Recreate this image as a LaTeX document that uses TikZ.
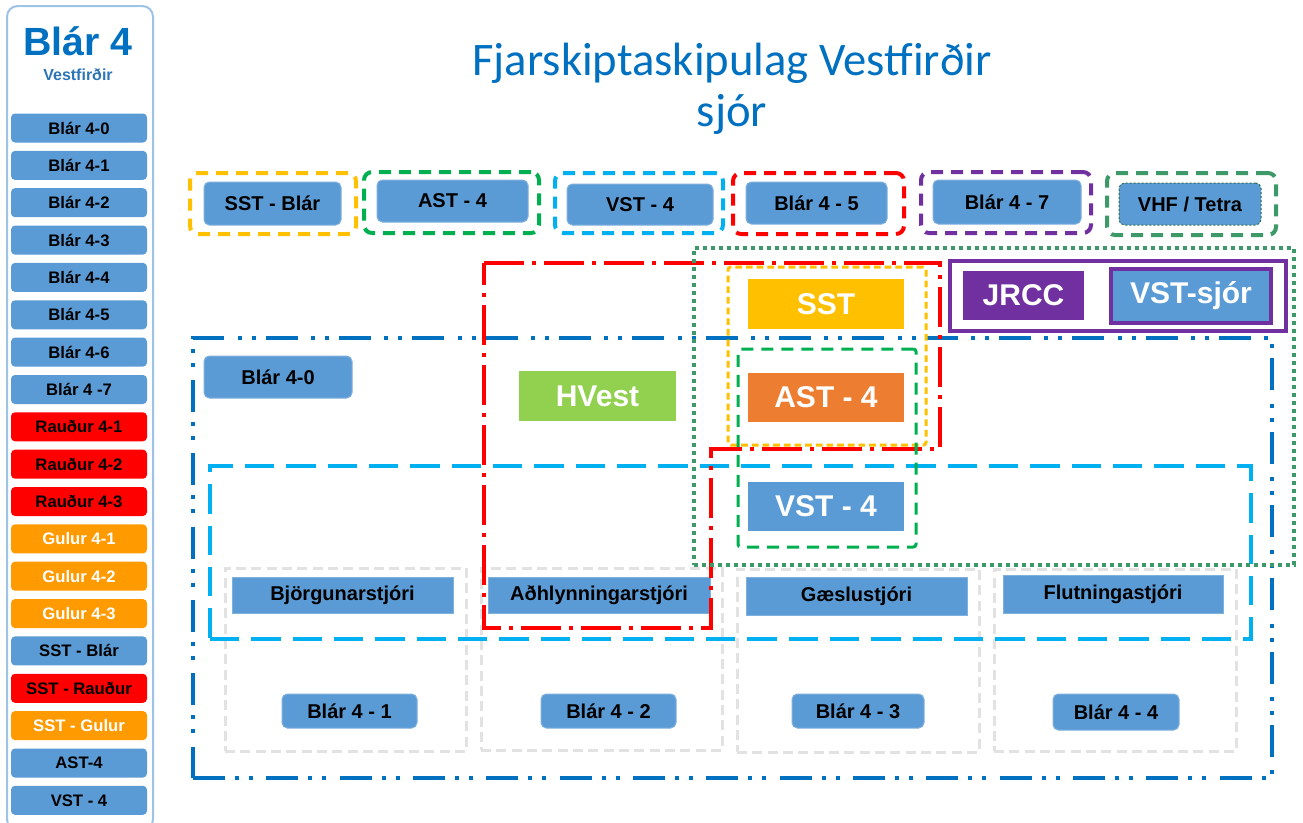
\documentclass[tikz,border=0pt]{standalone}
\usepackage{fontspec}
\setmainfont{Liberation Sans}
\newfontfamily\calibri{Carlito}
\definecolor{boxblue}{HTML}{5B9BD5}
\definecolor{boxedge}{HTML}{7FB0DE}
\definecolor{titleblue}{HTML}{0070C0}
\definecolor{subblue}{HTML}{2E75B6}
\definecolor{sideedge}{HTML}{9DC3E6}
\definecolor{darkblue}{HTML}{0070C0}
\definecolor{lightblue}{HTML}{00B0F0}
\definecolor{myred}{HTML}{FF0000}
\definecolor{myyellow}{HTML}{FFC000}
\definecolor{mygreen}{HTML}{00B050}
\definecolor{seagreen}{HTML}{3D9A68}
\definecolor{mypurple}{HTML}{7030A0}
\definecolor{myorange}{HTML}{ED7D31}
\definecolor{sideorange}{HTML}{FF9A00}
\definecolor{hvgreen}{HTML}{92D050}
\definecolor{lightgray}{HTML}{E2E2E2}
% \pbx{style}{x1}{y1}{x2}{y2}{name}{text}  (pixel coordinates)
\newcommand\pbx[7]{\node[#1, inner sep=0pt, outer sep=0pt,
   minimum width={(#4-#2)*0.75pt}, minimum height={(#5-#3)*0.75pt}]
   (#6) at ({(#2+#4)/2},{(#3+#5)/2}) {#7};}
\tikzset{
  rbox/.style={fill=boxblue, draw=boxedge, line width=0.75pt, rounded corners=4pt,
     font=\bfseries\fontsize{15}{17}\selectfont, text=black},
  sbox/.style={fill=boxblue, draw=boxedge, line width=0.75pt,
     font=\bfseries\fontsize{15}{17}\selectfont, text=black},
  bigbox/.style={font=\bfseries\fontsize{22.5}{24}\selectfont, text=white},
  topdash/.style={line width=3pt, dash pattern=on 9pt off 6pt, rounded corners=6pt},
  sidebtn/.style={inner sep=0pt, rounded corners=3pt, minimum width=102pt, minimum height=21.75pt,
     font=\bfseries\fontsize{12.5}{14}\selectfont},
  sblue/.style={sidebtn, fill=boxblue, text=black},
  sred/.style={sidebtn, fill=myred, text=black},
  sorange/.style={sidebtn, fill=sideorange, text=white},
  dashdotdot/.style={draw=darkblue, line width=2.5pt, dash pattern=on 24pt off 7.5pt on 3pt off 7.5pt on 3pt off 10pt},
  reddashdot/.style={draw=myred, line width=3pt, dash pattern=on 30pt off 6pt on 3pt off 6pt},
  lbdash/.style={draw=lightblue, line width=2.5pt, dash pattern=on 22pt off 9pt},
  yshort/.style={draw=myyellow, line width=2.25pt, dash pattern=on 5pt off 3pt, rounded corners=2pt},
  gdash/.style={draw=mygreen, line width=2.25pt, dash pattern=on 9pt off 6pt, rounded corners=2pt},
  gdot/.style={draw=seagreen, line width=3pt, dash pattern=on 3pt off 3pt},
  graybox/.style={draw=lightgray, line width=2.25pt, dash pattern=on 7.5pt off 4pt},
}
\begin{document}
\begin{tikzpicture}[x=0.75pt,y=-0.75pt]
\useasboundingbox (0,0) rectangle (1303,822);
\fill[white] (0,0) rectangle (1303,822);

% ---------------- sidebar ----------------
\pbx{draw=sideedge, line width=1.5pt, rounded corners=8pt}{7}{6}{153}{830}{side}{}
\node[anchor=base, text=titleblue, font=\bfseries\fontsize{29.5}{32}\selectfont] (sidetitle) at (78,55) {Blár 4};
\node[anchor=base, text=subblue, font=\bfseries\fontsize{12}{14}\selectfont] (sidesub) at (78,80) {Vestfirðir};
\node[sblue]   (s1)  at (79,128.0) {Blár 4-0};
\node[sblue]   (s2)  at (79,165.4) {Blár 4-1};
\node[sblue]   (s3)  at (79,202.7) {Blár 4-2};
\node[sblue]   (s4)  at (79,240.1) {Blár 4-3};
\node[sblue]   (s5)  at (79,277.4) {Blár 4-4};
\node[sblue]   (s6)  at (79,314.8) {Blár 4-5};
\node[sblue]   (s7)  at (79,352.1) {Blár 4-6};
\node[sblue]   (s8)  at (79,389.5) {Blár 4 -7};
\node[sred]    (s9)  at (79,426.8) {Rauður 4-1};
\node[sred]    (s10) at (79,464.2) {Rauður 4-2};
\node[sred]    (s11) at (79,501.5) {Rauður 4-3};
\node[sorange] (s12) at (79,538.9) {Gulur 4-1};
\node[sorange] (s13) at (79,576.2) {Gulur 4-2};
\node[sorange] (s14) at (79,613.6) {Gulur 4-3};
\node[sblue]   (s15) at (79,650.9) {SST - Blár};
\node[sred]    (s16) at (79,688.3) {SST - Rauður};
\node[sorange] (s17) at (79,725.6) {SST - Gulur};
\node[sblue]   (s18) at (79,763.0) {AST-4};
\node[sblue]   (s19) at (79,800.3) {VST - 4};

% ---------------- title ----------------
\node[anchor=base, text=titleblue, font=\calibri\fontsize{35}{40}\selectfont] (title1) at (732,75) {Fjarskiptaskipulag Vestfirðir};
\node[anchor=base, text=titleblue, font=\calibri\fontsize{35}{40}\selectfont] (title2) at (732,126) {sjór};

% ---------------- top row ----------------
\pbx{topdash, draw=myyellow}{190}{173}{356}{234}{t1}{}
\pbx{rbox}{204}{182}{341}{225}{t1i}{SST - Blár}
\pbx{topdash, draw=mygreen}{364}{172}{539}{233}{t2}{}
\pbx{rbox}{377}{180}{528}{222}{t2i}{AST - 4}
\pbx{topdash, draw=lightblue}{555}{173}{723}{233}{t3}{}
\pbx{rbox}{567}{184}{713}{225}{t3i}{VST - 4}
\pbx{topdash, draw=myred}{733}{173}{904}{234}{t4}{}
\pbx{rbox}{746}{182}{887}{224}{t4i}{Blár 4 - 5}
\pbx{topdash, draw=mypurple}{921}{172}{1091}{233}{t5}{}
\pbx{rbox}{933}{180}{1081}{224}{t5i}{Blár 4 - 7}
\pbx{topdash, draw=seagreen}{1107}{173}{1276}{235}{t6}{}
\pbx{rbox, draw=seagreen!70!black, dash pattern=on 1.5pt off 1.5pt}{1119}{183}{1261}{225}{t6i}{VHF / Tetra}

% ---------------- lower group boxes ----------------
\pbx{graybox}{225}{568}{466}{751}{g1}{}
\pbx{graybox}{481}{568}{722}{750}{g2}{}
\pbx{graybox}{737}{569}{979}{752}{g3}{}
\pbx{graybox}{994}{569}{1236}{751}{g4}{}
\pbx{sbox}{232}{577}{453}{613}{c1}{Björgunarstjóri}
\pbx{sbox}{488}{577}{710}{613}{c2}{Aðhlynningarstjóri}
\pbx{sbox}{746}{577}{967}{615}{c3}{Gæslustjóri}
\pbx{sbox}{1003}{575}{1223}{613}{c4}{Flutningastjóri}
\pbx{rbox}{282}{694}{417}{728}{b1}{Blár 4 - 1}
\pbx{rbox}{541}{694}{676}{728}{b2}{Blár 4 - 2}
\pbx{rbox}{792}{694}{924}{728}{b3}{Blár 4 - 3}
\pbx{rbox}{1053}{694}{1179}{730}{b4}{Blár 4 - 4}

% ---------------- region frames ----------------
\pbx{lbdash}{210}{466}{1251}{639}{vstframe}{}
\pbx{dashdotdot}{193}{338}{1272}{778}{b40frame}{}
\pbx{rbox}{204}{356}{352}{398}{b40}{Blár 4-0}
\pbx{bigbox, fill=hvgreen}{519}{371}{676}{421}{hvest}{HVest}
\draw[reddashdot] (484,263) -- (940,263) -- (940,449) -- (711,449) -- (711,628) -- (484,628) -- cycle;
\pbx{gdot}{694}{248}{1294}{565}{jframe}{}
\pbx{yshort}{728}{267}{926}{445}{sstframe}{}
\pbx{bigbox, fill=myyellow}{748}{279}{904}{329}{sst}{SST}
\pbx{gdash}{738}{349}{916}{547}{astframe}{}
\pbx{bigbox, fill=myorange}{748}{373}{904}{422}{ast}{AST - 4}
\pbx{bigbox, fill=boxblue}{748}{482}{904}{531}{vst}{VST - 4}
\pbx{draw=mypurple, line width=3pt, fill=white}{950}{261}{1286}{331}{pframe}{}
\pbx{bigbox, fill=mypurple}{963}{271}{1084}{320}{jrcc}{JRCC}
\pbx{bigbox, fill=boxblue, draw=mypurple, line width=2.5pt}{1111}{269}{1271}{323}{vstsjor}{VST-sjór}
\end{tikzpicture}
\end{document}
